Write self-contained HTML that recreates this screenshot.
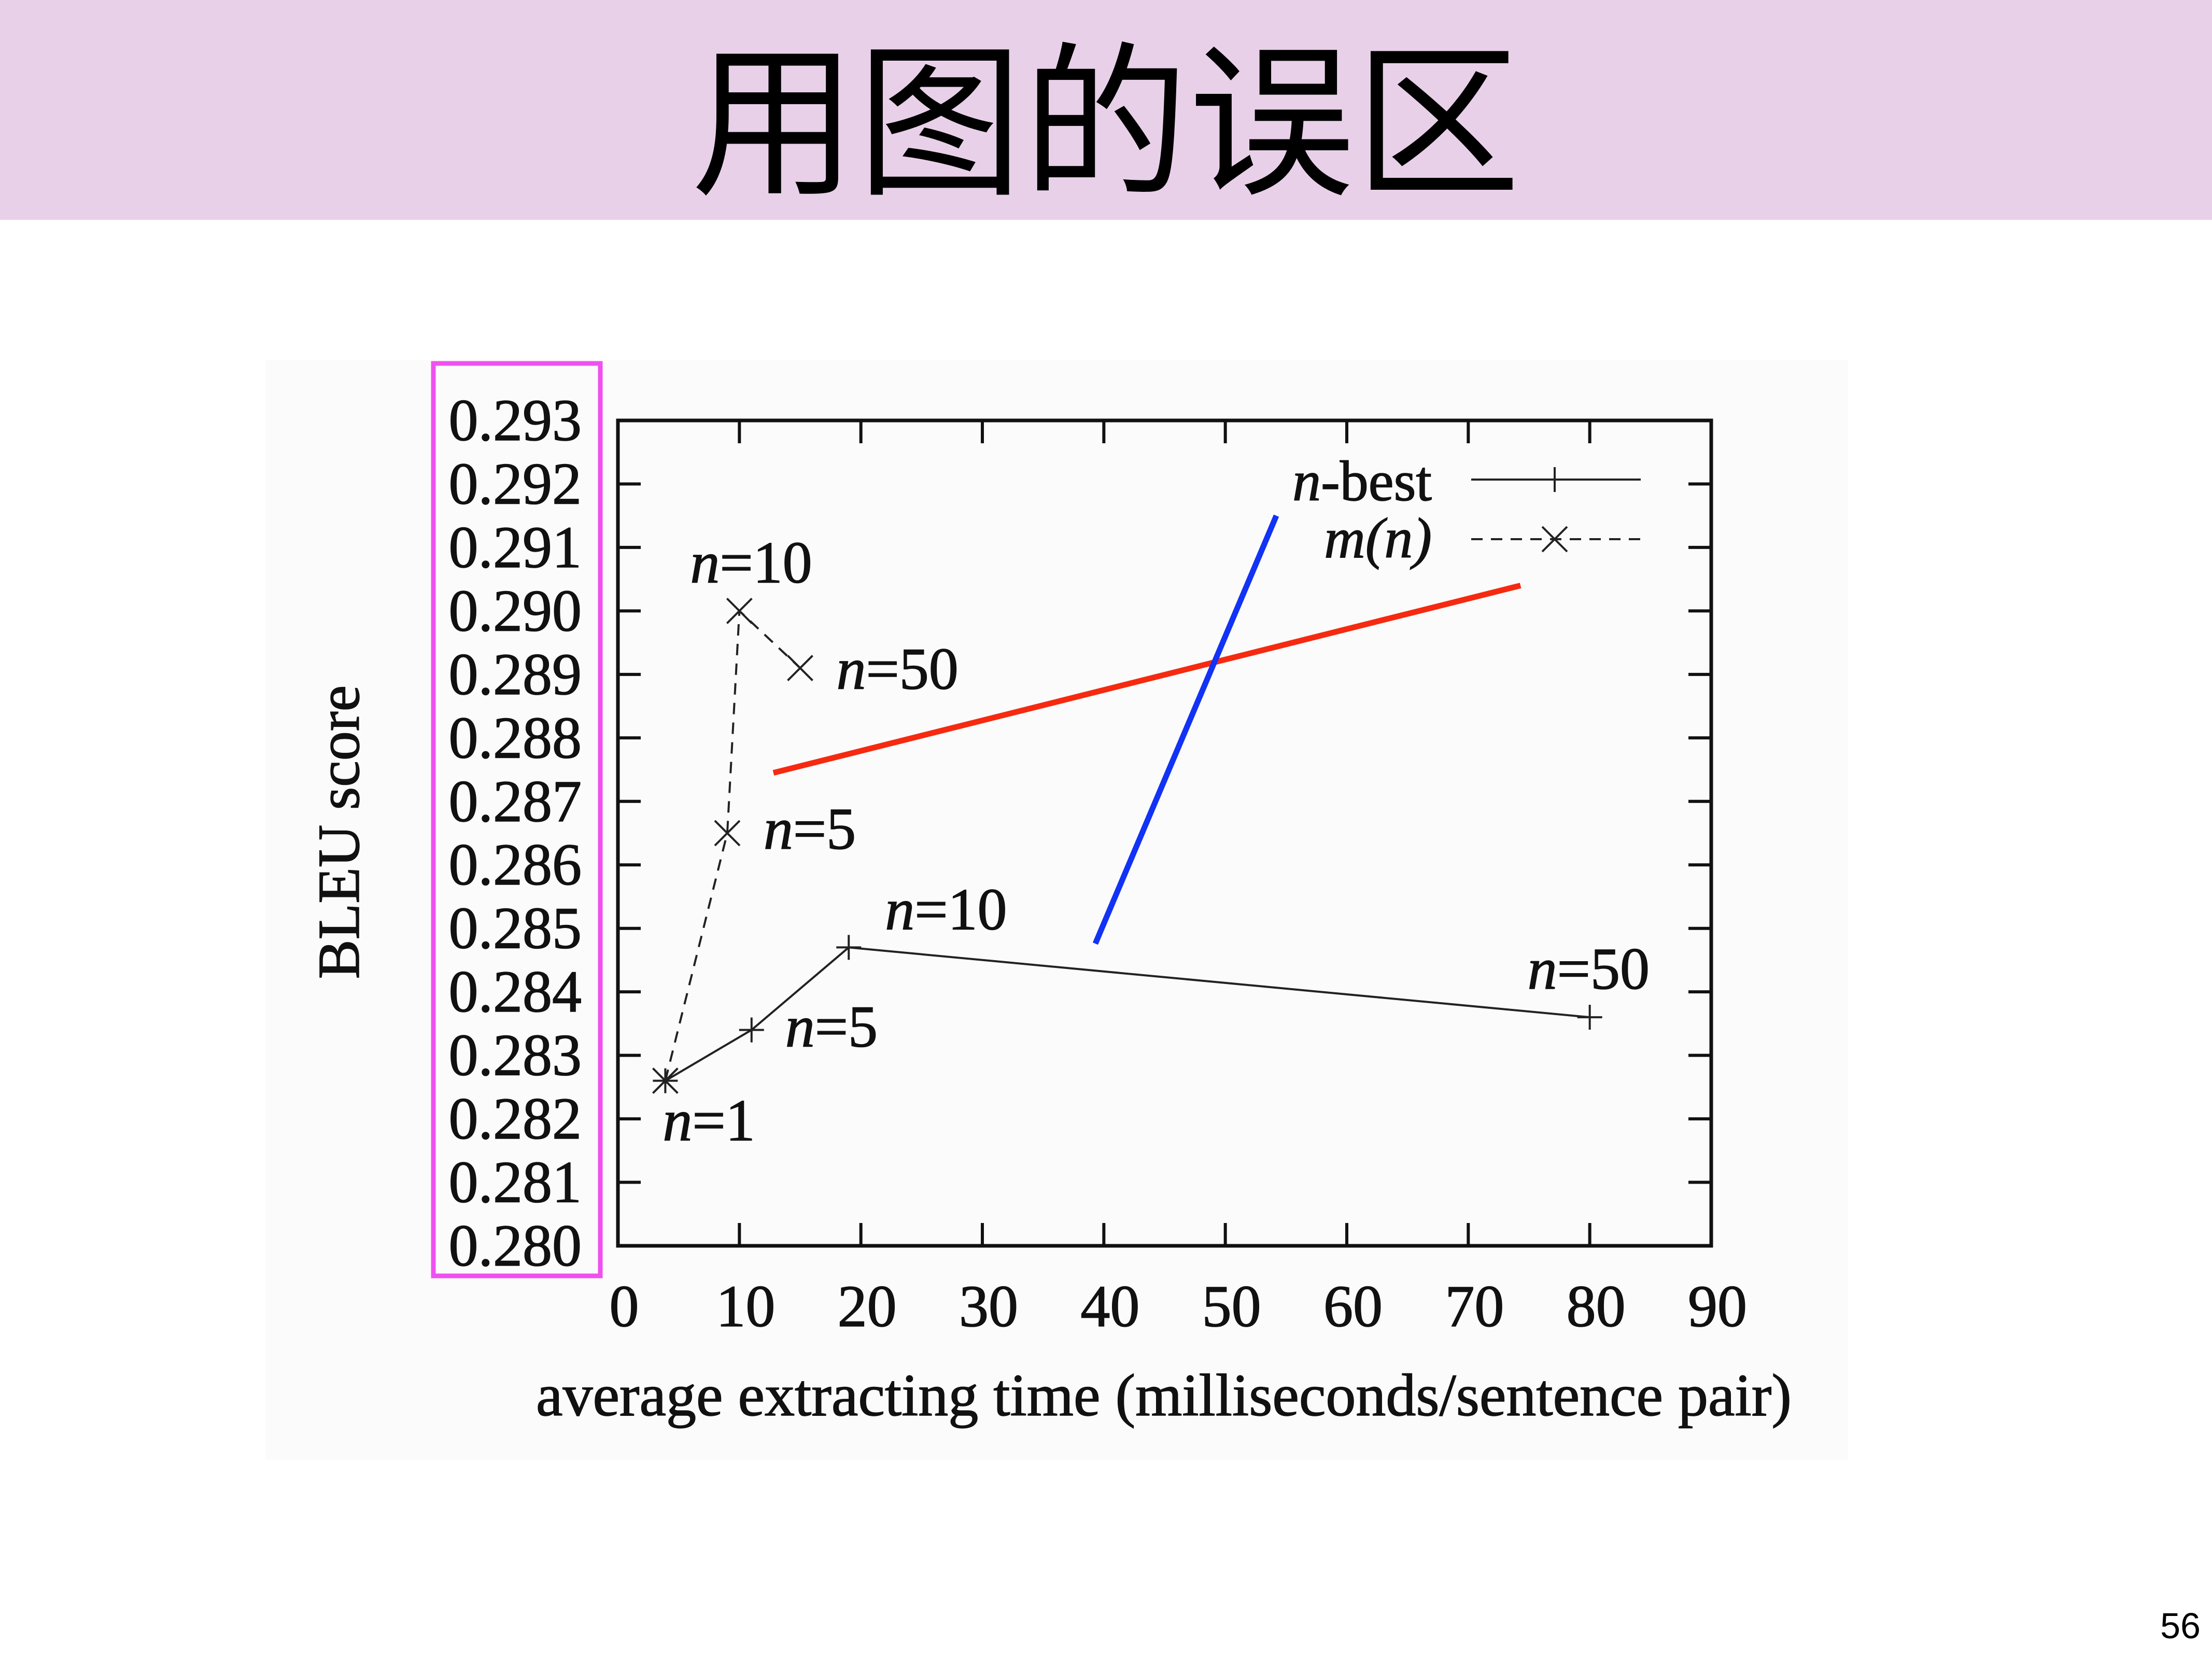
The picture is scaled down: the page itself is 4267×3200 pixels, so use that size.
<!DOCTYPE html>
<html><head><meta charset="utf-8"><style>
html,body{margin:0;padding:0;background:#fff;}
svg{display:block;}
</style></head><body>
<svg width="4267" height="3200" viewBox="0 0 4267 3200" xmlns="http://www.w3.org/2000/svg">
<rect x="0" y="0" width="4267" height="424" fill="#e8d1e8"/>
<text x="2133" y="350" text-anchor="middle" font-family="'Liberation Sans','Noto Sans CJK SC',sans-serif" font-size="320" fill="#000">用图的误区</text>
<rect x="512" y="694" width="3053" height="2122" fill="#fbfbfb"/>
<g id="chart" font-family="'Liberation Serif',serif"></g>
<rect x="836" y="701" width="322" height="1760" fill="none" stroke="#f050f0" stroke-width="9"/>
<text x="4245" y="3160" text-anchor="end" font-family="'Liberation Sans',sans-serif" font-size="70" fill="#000">56</text>
</svg>
<script>
const xTicks=[0,10,20,30,40,50,60,70,80,90];
const yTicks=[0.280,0.281,0.282,0.283,0.284,0.285,0.286,0.287,0.288,0.289,0.290,0.291,0.292,0.293];
const nbestX=[3.9,11,19,80];
const nbestY=[0.2826,0.2834,0.2847,0.2836];
const nbestLabels=["","5","10","50"];
const mnX=[3.9,9,10,15];
const mnY=[0.2826,0.2865,0.2900,0.2891];
const mnLabels=["1","5","10","50"];
const redLine=[[12.8,0.28745],[74.3,0.2904]];
const blueLine=[[39.3,0.28476],[54.2,0.2915]];

const L=1192,R=3301,T=811,B=2403;
const X=v=>L+(v-0)/90*(R-L);
const Y=v=>B-(v-0.280)/0.013*(B-T);
const NS="http://www.w3.org/2000/svg";
const g=document.getElementById('chart');
function mk(tag,attrs,parent){const e=document.createElementNS(NS,tag);for(const k in attrs)e.setAttribute(k,attrs[k]);(parent||g).appendChild(e);return e;}

const frame=mk('rect',{x:L,y:T,width:R-L,height:B-T,fill:'none',stroke:'#111','stroke-width':7});



xTicks.forEach(v=>{
  if(v>0&&v<90){
    const t1=mk('line',{x1:X(v),x2:X(v),y1:B,y2:B-44,stroke:'#111','stroke-width':6});
    
    
    const t2=mk('line',{x1:X(v),x2:X(v),y1:T,y2:T+44,stroke:'#111','stroke-width':6});
    
    
  }
  const tl=mk('text',{x:X(v)+12,y:2558,'text-anchor':'middle','font-size':114,fill:'#111',stroke:'#111','stroke-width':1.5});
  tl.textContent=String(v);
  
  
});
yTicks.forEach(v=>{
  if(v>0.2805&&v<0.2925){
    const t1=mk('line',{x1:L,x2:L+44,y1:Y(v),y2:Y(v),stroke:'#111','stroke-width':6});
    
    
    const t2=mk('line',{x1:R,x2:R-44,y1:Y(v),y2:Y(v),stroke:'#111','stroke-width':6});
    
    
  }
  const tl=mk('text',{x:1122,y:Y(v)+38,'text-anchor':'end','font-size':114,fill:'#111',stroke:'#111','stroke-width':1.5});
  tl.textContent=v.toFixed(3);
  
  
});

const xt=mk('text',{x:2245,y:2730,'text-anchor':'middle','font-size':116,fill:'#111',stroke:'#111','stroke-width':1.5});
xt.textContent='average extracting time (milliseconds/sentence pair)';


const yt=mk('text',{x:0,y:0,'text-anchor':'middle','font-size':114,fill:'#111',stroke:'#111','stroke-width':1.5,transform:'translate(692,1605) rotate(-90)'});
yt.textContent='BLEU score';



function plus(x,y,name){const p=mk('path',{d:`M${x-24},${y}H${x+24}M${x},${y-24}V${y+24}`,stroke:'#222','stroke-width':4,fill:'none'});}
function cross(x,y,name){const p=mk('path',{d:`M${x-24},${y-24}L${x+24},${y+24}M${x+24},${y-24}L${x-24},${y+24}`,stroke:'#222','stroke-width':4,fill:'none'});}

const nb=mk('polyline',{points:nbestX.map((v,i)=>X(v)+','+Y(nbestY[i])).join(' '),fill:'none',stroke:'#222','stroke-width':4});


nbestX.forEach((v,i)=>plus(X(v),Y(nbestY[i]),'nbest-point'));
const mn=mk('polyline',{points:mnX.map((v,i)=>X(v)+','+Y(mnY[i])).join(' '),fill:'none',stroke:'#222','stroke-width':4,'stroke-dasharray':'22,16'});


mnX.forEach((v,i)=>cross(X(v),Y(mnY[i]),'mn-point'));

function lab(num,x,y,name){const t=mk('text',{x:x,y:y,'font-size':114,fill:'#111',stroke:'#111','stroke-width':1.5});t.innerHTML='<tspan font-style="italic">n</tspan>='+num;}
lab(nbestLabels[1],X(nbestX[1])+65,Y(nbestY[1])+32,'nbest-label');
lab(nbestLabels[2],X(nbestX[2])+70,Y(nbestY[2])-35,'nbest-label');
lab(nbestLabels[3],X(nbestX[3])-120,Y(nbestY[3])-55,'nbest-label');
lab(mnLabels[0],X(mnX[0])-5,Y(mnY[0])+115,'mn-label');
lab(mnLabels[1],X(mnX[1])+70,Y(mnY[1])+30,'mn-label');
lab(mnLabels[2],X(mnX[2])-95,Y(mnY[2])-55,'mn-label');
lab(mnLabels[3],X(mnX[3])+70,Y(mnY[3])+40,'mn-label');

// legend
const l1=mk('text',{x:2762,y:965,'text-anchor':'end','font-size':110,fill:'#111',stroke:'#111','stroke-width':1.5});
l1.innerHTML='<tspan font-style="italic">n</tspan>-best';


const ll1=mk('line',{x1:2838,x2:3165,y1:925,y2:925,stroke:'#222','stroke-width':4});


plus(2999,925,'legend-nbest-marker');
const l2=mk('text',{x:2762,y:1075,'text-anchor':'end','font-size':110,'font-style':'italic',fill:'#111',stroke:'#111','stroke-width':1.5});
l2.textContent='m(n)';


const ll2=mk('line',{x1:2838,x2:3165,y1:1040,y2:1040,stroke:'#222','stroke-width':4,'stroke-dasharray':'22,16'});


cross(2999,1040,'legend-mn-marker');

// annotations
const rl=mk('line',{x1:X(redLine[0][0]),y1:Y(redLine[0][1]),x2:X(redLine[1][0]),y2:Y(redLine[1][1]),stroke:'#f52a10','stroke-width':11});


const bl=mk('line',{x1:X(blueLine[0][0]),y1:Y(blueLine[0][1]),x2:X(blueLine[1][0]),y2:Y(blueLine[1][1]),stroke:'#1232f5','stroke-width':11});


</script>
</body></html>
